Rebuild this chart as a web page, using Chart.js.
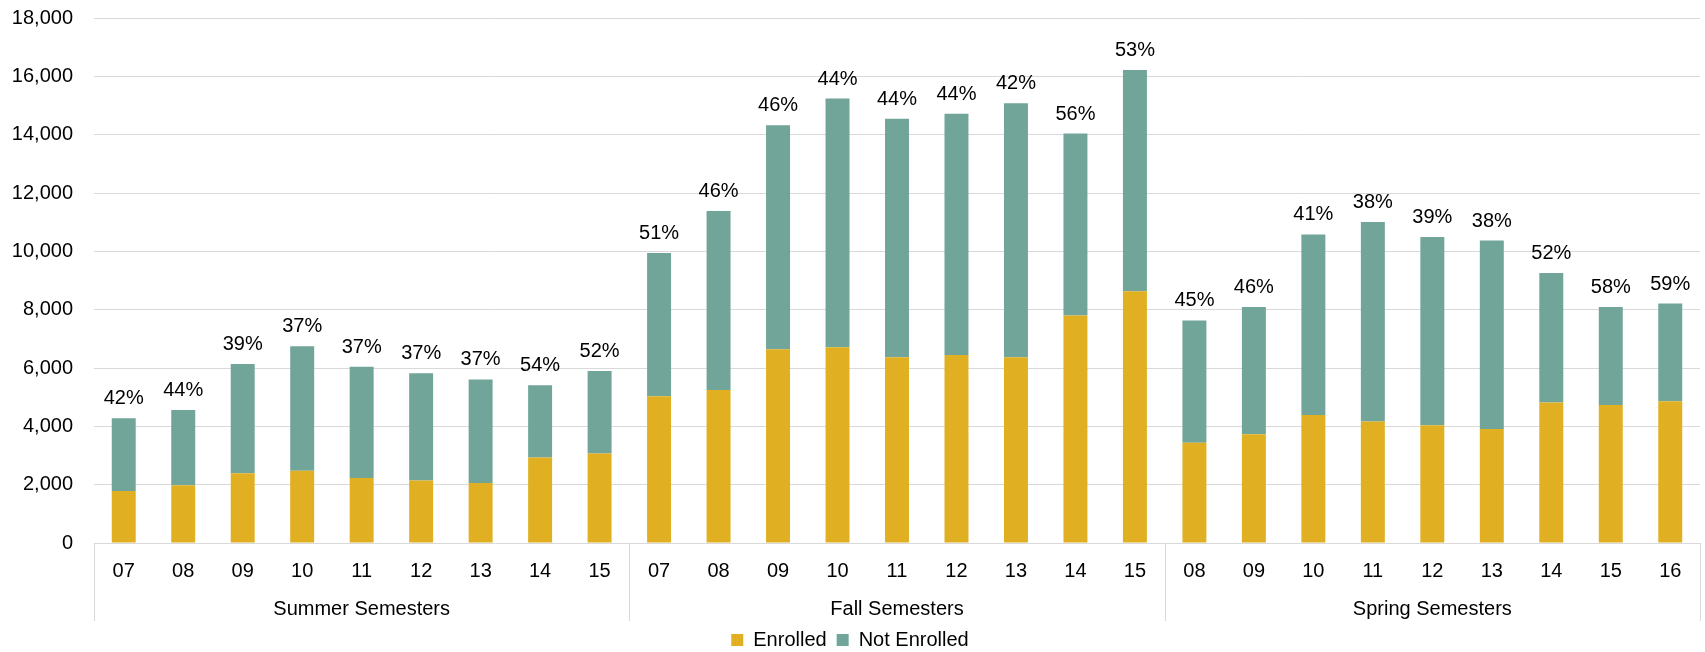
<!DOCTYPE html>
<html>
<head>
<meta charset="utf-8">
<script src="https://cdn.jsdelivr.net/npm/chart.js@4.4.1/dist/chart.umd.min.js"></script>
<style>
  html, body { margin: 0; padding: 0; background: #fff; }
  #wrap { width: 1705px; height: 652px; }
</style>
</head>
<body>
<div id="wrap"><canvas id="grafico" width="1705" height="652"></canvas></div>
<script>
// Dados
const grupos = ['Summer Semesters', 'Fall Semesters', 'Spring Semesters'];

const summerTerms = ['07', '08', '09', '10', '11', '12', '13', '14', '15'];
const fallTerms = ['07', '08', '09', '10', '11', '12', '13', '14', '15'];
const springTerms = ['08', '09', '10', '11', '12', '13', '14', '15', '16'];

const summerEnrolled = [1780, 1980, 2390, 2480, 2230, 2140, 2060, 2930, 3070];
const fallEnrolled = [5030, 5250, 6640, 6710, 6370, 6450, 6370, 7800, 8630];
const springEnrolled = [3440, 3730, 4390, 4170, 4040, 3910, 4820, 4730, 4860];

const summerNotEnrolled = [2500, 2580, 3750, 4270, 3810, 3680, 3550, 2480, 2830];
const fallNotEnrolled = [4910, 6130, 7680, 8530, 8180, 8270, 8710, 6240, 7590];
const springNotEnrolled = [4190, 4360, 6190, 6840, 6450, 6460, 4440, 3360, 3350];

const summerPct = ['42%', '44%', '39%', '37%', '37%', '37%', '37%', '54%', '52%'];
const fallPct = ['51%', '46%', '46%', '44%', '44%', '44%', '42%', '56%', '53%'];
const springPct = ['45%', '46%', '41%', '38%', '39%', '38%', '52%', '58%', '59%'];

const yTicks = [0, 2000, 4000, 6000, 8000, 10000, 12000, 14000, 16000, 18000];

// Montagem
const termos = [summerTerms, fallTerms, springTerms];
const labels = [].concat(...termos);
const enrolled = [].concat(summerEnrolled, fallEnrolled, springEnrolled);
const notEnrolled = [].concat(summerNotEnrolled, fallNotEnrolled, springNotEnrolled);
const percentuais = [].concat(summerPct, fallPct, springPct);

const FONTE = '"Liberation Sans", Arial, sans-serif';
const corGrade = '#d9d9d9';

// Plugin: rótulos de %, divisórias e nomes dos grupos
const eixoAgrupado = {
    id: 'eixoAgrupado',
    afterDatasetsDraw(chart) {
        const ctx = chart.ctx;
        const meta = chart.getDatasetMeta(1);
        ctx.save();
        ctx.font = '20px ' + FONTE;
        ctx.fillStyle = '#000';
        ctx.textAlign = 'center';
        ctx.textBaseline = 'alphabetic';
        meta.data.forEach((bar, i) => {
            ctx.fillText(percentuais[i], bar.x, bar.y - 14);
        });
        ctx.restore();
    },
    afterDraw(chart) {
        const ctx = chart.ctx;
        const x = chart.scales.x;
        const area = chart.chartArea;
        const fundo = area.bottom + 78;

        // limites dos grupos
        const limites = [area.left];
        let idx = 0;
        termos.forEach((t, g) => {
            idx += t.length;
            if (g < termos.length - 1) {
                limites.push((x.getPixelForValue(idx - 1) + x.getPixelForValue(idx)) / 2);
            }
        });
        limites.push(area.right);

        ctx.save();
        ctx.strokeStyle = corGrade;
        ctx.lineWidth = 1;
        limites.forEach(lx => {
            const px = Math.round(lx) + 0.5;
            ctx.beginPath();
            ctx.moveTo(px, area.bottom);
            ctx.lineTo(px, fundo);
            ctx.stroke();
        });

        ctx.font = '20px ' + FONTE;
        ctx.fillStyle = '#000';
        ctx.textAlign = 'center';
        ctx.textBaseline = 'middle';
        grupos.forEach((nome, g) => {
            ctx.fillText(nome, (limites[g] + limites[g + 1]) / 2, area.bottom + 66);
        });
        ctx.restore();
    }
};

const grafico = new Chart(document.getElementById('grafico'), {
    type: 'bar',
    data: {
        labels: labels,
        datasets: [
            {
                label: 'Enrolled',
                data: enrolled,
                backgroundColor: '#e1b022',
                categoryPercentage: 1,
                barPercentage: 0.403
            },
            {
                label: 'Not Enrolled',
                data: notEnrolled,
                backgroundColor: '#71a59a',
                categoryPercentage: 1,
                barPercentage: 0.403
            }
        ]
    },
    options: {
        responsive: false,
        animation: false,
        layout: {
            autoPadding: false,
            padding: { top: 18, right: 5, left: 0, bottom: -8 }
        },
        scales: {
            x: {
                stacked: true,
                grid: { display: false, drawTicks: false },
                border: { display: false },
                ticks: {
                    color: '#000',
                    font: { family: FONTE, size: 20 },
                    padding: 16,
                    maxRotation: 0,
                    autoSkip: false
                },
                afterFit(scale) {
                    scale.height = 77;
                    scale.paddingLeft = 0;
                    scale.paddingRight = 0;
                }
            },
            y: {
                stacked: true,
                min: 0,
                max: 18000,
                afterBuildTicks(scale) {
                    scale.ticks = yTicks.map(v => ({ value: v }));
                },
                grid: { color: corGrade, lineWidth: 1, drawTicks: false },
                border: { display: false },
                ticks: {
                    color: '#000',
                    font: { family: FONTE, size: 20 },
                    padding: 21,
                    callback: v => v.toLocaleString('en-US')
                },
                afterFit(scale) {
                    scale.width = 94;
                    scale.paddingTop = 0;
                    scale.paddingBottom = 0;
                }
            }
        },
        plugins: {
            legend: {
                position: 'bottom',
                labels: {
                    color: '#000',
                    font: { family: FONTE, size: 20 },
                    boxWidth: 12,
                    boxHeight: 12,
                    padding: 10
                }
            },
            tooltip: { enabled: false }
        }
    },
    plugins: [eixoAgrupado]
});
</script>
</body>
</html>
